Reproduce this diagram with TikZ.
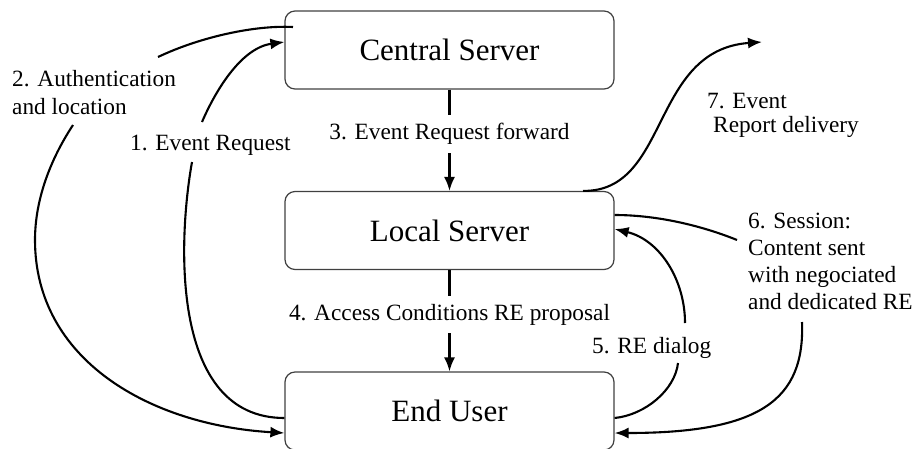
\documentclass[tikz,border=0pt]{standalone}
\usepackage{fontspec}
\setmainfont{Liberation Serif}
\usetikzlibrary{arrows.meta}
\begin{document}
\begin{tikzpicture}[x=1pt,y=-1pt,
  box/.style={draw=black!75, line width=1.2pt, rounded corners=10pt,
    minimum width=329pt, minimum height=78pt, inner sep=0pt,
    font=\fontsize{31}{37}\selectfont},
  lbl/.style={font=\fontsize{23.3}{28}\selectfont, inner sep=0pt, align=left, anchor=north west},
  arr/.style={line width=2.1pt, -{Latex[length=14pt,width=11pt]}},
  ln/.style={line width=2.1pt},
  gap/.style={fill=white, font=\fontsize{23.3}{28}\selectfont, inner xsep=2pt, inner ysep=8pt}]
\useasboundingbox (0,0) rectangle (915,448);

% boxes
\node[box] (central) at (449.5,50)  {Central Server};
\node[box] (local)   at (449.5,230.5) {Local Server};
\node[box] (user)    at (449.5,411) {End User};

% 3 and 4
\draw[arr] (central) -- node[gap,pos=0.44] (t3) {3. Event Request forward} (local);
\draw[arr] (local) -- node[gap,pos=0.44] (t4) {4. Access Conditions RE proposal} (user);

% 1. Event Request
\coordinate (u1) at (user.west |- 0,418);
\coordinate (c1) at (central.west |- 0,42);
\coordinate (a1) at (192,162);
\coordinate (b1) at (202,122);
\draw[ln] (u1) .. controls (170,418) and (178,240) .. (a1);
\draw[arr] (b1) .. controls (214,94) and (240,48) .. (c1);

% 2. Authentication and location
\coordinate (c2) at (293,27);
\coordinate (a2) at (158,57);
\coordinate (b2) at (73,125);
\coordinate (m2) at (35,240);
\coordinate (u2) at (user.west |- 0,433);
\draw[ln] (c2) .. controls (255,25) and (200,37) .. (a2);
\draw[arr] (b2) .. controls (50,160) and (35,200) .. (m2) .. controls (35,360) and (150,425) .. (u2);

% 7. Event Report delivery
\coordinate (l7) at (local.north -| 583,0);
\coordinate (e7) at (762,42);
\draw[arr] (l7) .. controls (670,192) and (650,50) .. (e7);

% 6. Session
\coordinate (l6) at (local.east |- 0,215);
\coordinate (a6) at (737,240);
\coordinate (b6) at (802,322);
\coordinate (u6) at (user.east |- 0,433);
\draw[ln] (l6) .. controls (660,215) and (705,227) .. (a6);
\draw[arr] (b6) .. controls (805,400) and (760,433) .. (u6);

% 5. RE dialog
\coordinate (u5) at (user.east |- 0,418);
\coordinate (a5) at (678,363);
\coordinate (b5) at (685,323);
\coordinate (l5) at (local.east |- 0,229);
\draw[ln] (u5) .. controls (645,415) and (675,390) .. (a5);
\draw[arr] (b5) .. controls (685,280) and (660,240) .. (l5);

% labels
\node[lbl] (t2) at (12,70) {2. Authentication\\and location};
\node[lbl] (t1) at (130,135) {1. Event Request};
\node[lbl, font=\fontsize{23.3}{24}\selectfont] (t7) at (707,93) {7. Event\\\hspace*{6pt}Report delivery};
\node[lbl, font=\fontsize{23.3}{27}\selectfont] (t6) at (748,213) {6. Session:\\Content sent\\with negociated\\and dedicated RE};
\node[lbl] (t5) at (592,337) {5. RE dialog};
\end{tikzpicture}
\end{document}
